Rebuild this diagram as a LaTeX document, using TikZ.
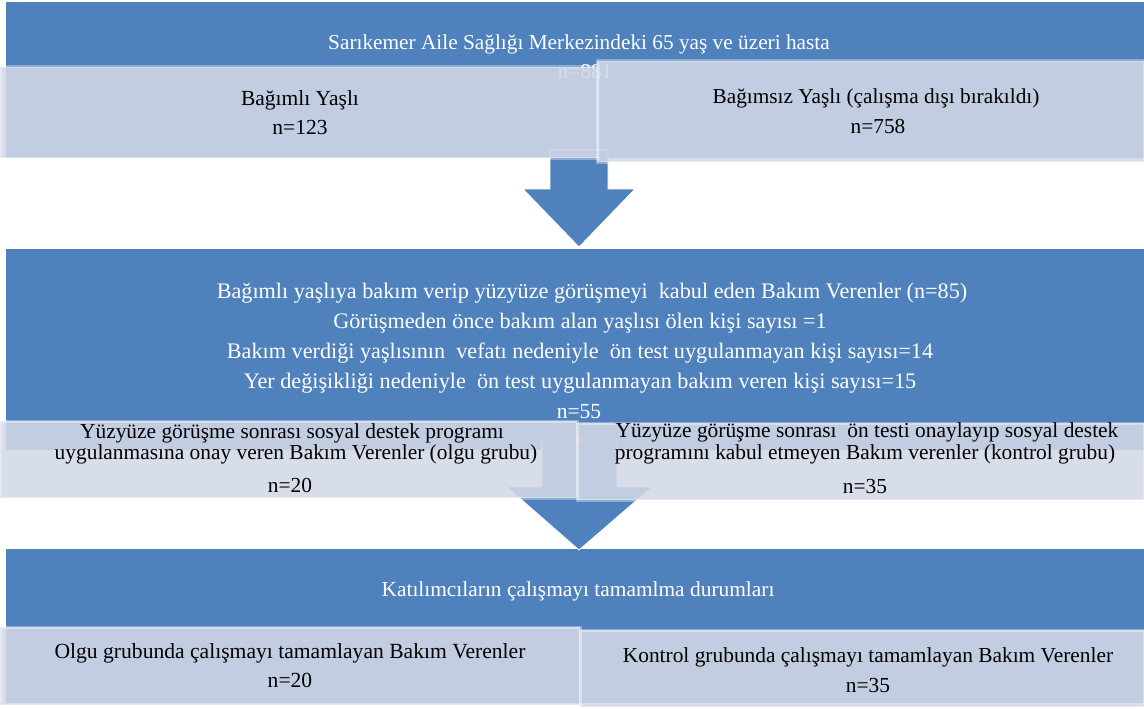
\documentclass[tikz,border=0pt]{standalone}
\usepackage{fontspec}
\setmainfont{Liberation Serif}
\definecolor{bandblue}{HTML}{4F81BD}
\definecolor{boxfill}{RGB}{211,216,231}
\begin{document}
\begin{tikzpicture}[x=1pt,y=-1pt,
  bandbox/.style={fill=bandblue,draw=none,anchor=north west,inner sep=0,outer sep=0},
  lightbox/.style={fill=boxfill,fill opacity=0.88,draw=white,draw opacity=0.35,line width=3pt,anchor=north west,inner sep=0,outer sep=0},
  blockarrow/.style={fill=bandblue,draw=white,line width=0.8pt},
  wtxt/.style={anchor=base,inner sep=0,text=white,font=\fontsize{#1}{#1}\selectfont},
  btxt/.style={anchor=base,inner sep=0,text=black,font=\fontsize{#1}{#1}\selectfont}
]
\useasboundingbox (0,0) rectangle (1144,709);
% bands
\node[bandbox,minimum width=1138pt,minimum height=156pt] (band1) at (6,2) {};
\node[bandbox,minimum width=1138pt,minimum height=201pt] (band2) at (6,249) {};
\node[bandbox,minimum width=1138pt,minimum height=154pt] (band3) at (6,549) {};
% arrows
\fill[blockarrow] (550,150) -- (608,150) -- (608,189) -- (635,189) -- (579,247) -- (523,189) -- (550,189) -- cycle;
\fill[blockarrow] (542,440) -- (617,440) -- (617,487) -- (652,487) -- (579,550) -- (507,487) -- (542,487) -- cycle;
% band texts
\node[wtxt=21.3] (t1) at (579,50) {Sarıkemer Aile Sağlığı Merkezindeki 65 yaş ve üzeri hasta};
\node[wtxt=21.3] (t1n) at (585,79) {n=881};
\node[wtxt=22.2] (t2a) at (592,298) {Bağımlı yaşlıya bakım verip yüzyüze görüşmeyi\ \ kabul eden Bakım Verenler (n=85)};
\node[wtxt=22.2] (t2b) at (580,328) {Görüşmeden önce bakım alan yaşlısı ölen kişi sayısı =1};
\node[wtxt=22.2] (t2c) at (580,358) {Bakım verdiği yaşlısının\ \ vefatı nedeniyle\ \ ön test uygulanmayan kişi sayısı=14};
\node[wtxt=22.2] (t2d) at (580,388) {Yer değişikliği nedeniyle\ \ ön test uygulanmayan bakım veren kişi sayısı=15};
\node[wtxt=21.5] (t2n) at (579,418) {n=55};
\node[wtxt=21.4] (t3) at (578,596) {Katılımcıların çalışmayı tamamlma durumları};
% row 1 boxes
\node[lightbox,minimum width=598pt,minimum height=91pt] (b1l) at (0,67) {};
\node[lightbox,minimum width=547pt,minimum height=101pt] (b1r) at (597,61) {};
\node[btxt=21.5] (b1la) at (300,106) {Bağımlı Yaşlı};
\node[btxt=21.5] (b1lb) at (300,134) {n=123};
\node[btxt=21.3] (b1ra) at (876,103) {Bağımsız Yaşlı (çalışma dışı bırakıldı)};
\node[btxt=21.3] (b1rb) at (878,133) {n=758};
% row 2 boxes
\node[lightbox,minimum width=577pt,minimum height=77pt] (b2l) at (0,421) {};
\node[lightbox,minimum width=567pt,minimum height=77pt] (b2r) at (577,423) {};
\node[btxt=21.4] (b2la) at (292,438) {Yüzyüze görüşme sonrası sosyal destek programı};
\node[btxt=21.4] (b2lb) at (296,459) {uygulanmasına onay veren Bakım Verenler (olgu grubu)};
\node[btxt=21.4] (b2lc) at (290,492) {n=20};
\node[btxt=21.4] (b2ra) at (867,437) {Yüzyüze görüşme sonrası\ \ ön testi onaylayıp sosyal destek};
\node[btxt=21.4] (b2rb) at (865,459) {programını kabul etmeyen Bakım verenler (kontrol grubu)};
\node[btxt=21.4] (b2rc) at (865,493) {n=35};
% row 3 boxes
\node[lightbox,minimum width=580pt,minimum height=78pt] (b3l) at (0,627) {};
\node[lightbox,minimum width=564pt,minimum height=77pt] (b3r) at (580,630) {};
\node[btxt=21.6] (b3la) at (290,658) {Olgu grubunda çalışmayı tamamlayan Bakım Verenler};
\node[btxt=21.6] (b3lb) at (290,687) {n=20};
\node[btxt=21.4] (b3ra) at (868,662) {Kontrol grubunda çalışmayı tamamlayan Bakım Verenler};
\node[btxt=21.4] (b3rb) at (868,692) {n=35};
\end{tikzpicture}
\end{document}
